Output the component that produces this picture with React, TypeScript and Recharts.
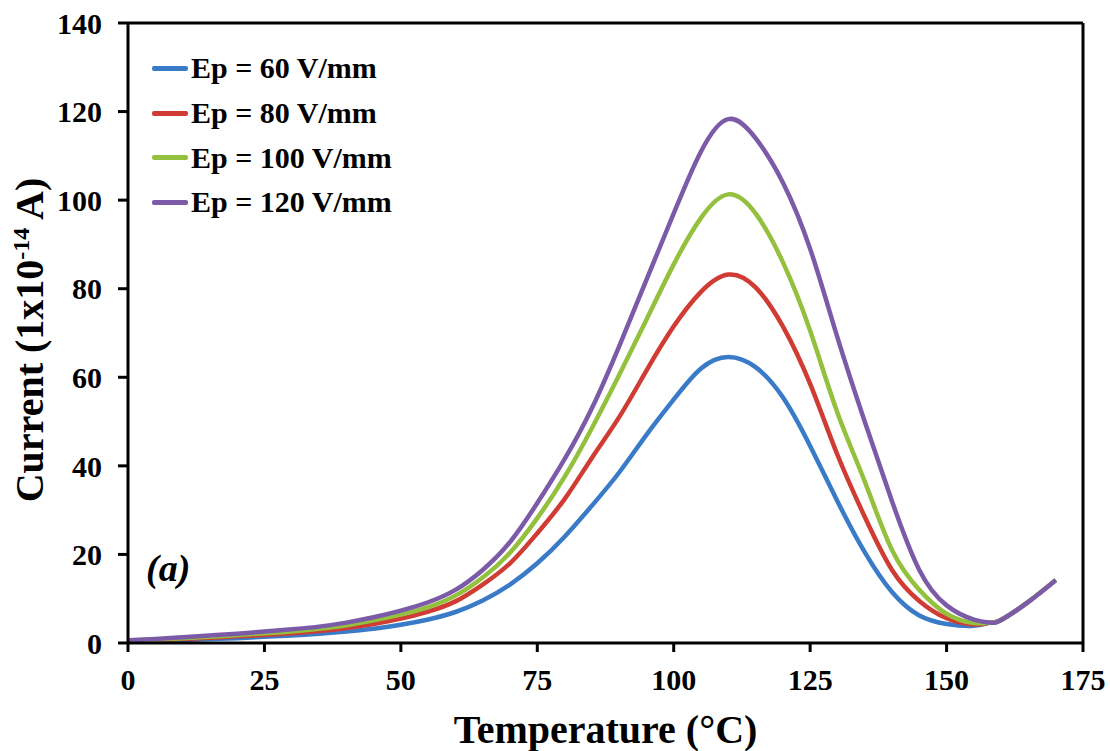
import React from 'react';
import { LineChart, Line, XAxis, YAxis, ReferenceLine, Label } from 'recharts';

const temperatures = [0, 5, 10, 15, 20, 25, 30, 35, 40, 45, 50, 55, 60, 65, 70, 75, 80, 85, 90, 95, 100, 105, 110, 115, 120, 125, 130, 135, 140, 145, 150, 155, 158, 160, 165, 170];

const ep60 = [0.3, 0.5, 0.7, 0.9, 1.1, 1.4, 1.7, 2.1, 2.6, 3.2, 4.1, 5.3, 7.0, 9.6, 13.2, 18, 24, 31, 38.5, 47, 55, 62, 64.6, 62.3, 55.5, 44.5, 32, 20.5, 11.5, 6.2, 4.3, 3.9, 4.6, 5.2, 9.3, 14.2];
const ep80 = [0.4, 0.6, 0.9, 1.2, 1.5, 1.8, 2.2, 2.7, 3.4, 4.3, 5.5, 7.1, 9.4, 13.2, 18, 24.8, 32.5, 41.8, 51, 61.5, 71.5, 79.3, 83.2, 80.3, 71.5, 58.5, 42.5, 28.5, 16.5, 9.5, 5.6, 4.2, 4.6, 5.2, 9.3, 14.2];
const ep100 = [0.5, 0.8, 1.1, 1.4, 1.8, 2.2, 2.6, 3.2, 4.0, 5.1, 6.4, 8.1, 10.7, 14.8, 20.4, 28.2, 37.5, 48.5, 60.5, 73, 85.5, 96, 101.3, 97, 86, 70.5, 52, 36.5, 21, 12, 6.6, 4.5, 4.6, 5.2, 9.3, 14.2];
const ep120 = [0.6, 0.9, 1.3, 1.7, 2.1, 2.6, 3.1, 3.7, 4.6, 5.8, 7.3, 9.2, 12.0, 16.5, 22.8, 31.6, 41.5, 53, 67, 82, 97, 111, 118.3, 114, 104, 89, 69, 50, 32, 16.5, 8.5, 5.3, 4.6, 5.2, 9.3, 14.2];

const xTicks = [0, 25, 50, 75, 100, 125, 150, 175];
const yTicks = [0, 20, 40, 60, 80, 100, 120, 140];

const seriesNames = ['Ep = 60 V/mm', 'Ep = 80 V/mm', 'Ep = 100 V/mm', 'Ep = 120 V/mm'];
const seriesKeys = ['ep60', 'ep80', 'ep100', 'ep120'];
const seriesColors = ['#3A7BC8', '#D03B33', '#93C13E', '#7B5BA8'];

const data = temperatures.map((t, i) => ({
  t,
  ep60: ep60[i],
  ep80: ep80[i],
  ep100: ep100[i],
  ep120: ep120[i],
}));

const FONT = '"Liberation Serif", "Times New Roman", serif';

const XTitle = (props: any) => {
  const vb = props.viewBox || { x: 128, y: 643, width: 955, height: 108 };
  return (
    <text
      x={vb.x + vb.width / 2}
      y={vb.y + 100}
      textAnchor="middle"
      fontFamily={FONT}
      fontWeight="bold"
      fontSize={40}
      fill="#000"
    >
      Temperature (°C)
    </text>
  );
};

const YTitle = (props: any) => {
  const vb = props.viewBox || { x: 0, y: 23, width: 128, height: 620 };
  const cx = 43;
  const cy = vb.y + vb.height / 2 + 7;
  return (
    <text
      x={cx}
      y={cy}
      transform={`rotate(-90, ${cx}, ${cy})`}
      textAnchor="middle"
      fontFamily={FONT}
      fontWeight="bold"
      fontSize={40}
      fill="#000"
    >
      Current (1x10
      <tspan dy={-14} fontSize={24}>-14</tspan>
      <tspan dy={14}> A)</tspan>
    </text>
  );
};

export default function App() {
  const tickStyle = { fontSize: 30, fontWeight: 700, fill: '#000', fontFamily: FONT };
  return (
    <div style={{ position: 'absolute', left: 0, top: 0, width: 1110, height: 751, background: '#fff' }}>
      <LineChart
        width={1110}
        height={751}
        data={data}
        margin={{ top: 23, right: 27, left: 0, bottom: 0 }}
      >
        <XAxis
          dataKey="t"
          type="number"
          domain={[0, 175]}
          ticks={xTicks}
          interval={0}
          height={108}
          axisLine={{ stroke: '#000', strokeWidth: 3 }}
          tickLine={{ stroke: '#000', strokeWidth: 3 }}
          tickSize={9}
          tickMargin={17}
          tick={tickStyle}
        >
          <Label content={<XTitle />} />
        </XAxis>
        <YAxis
          type="number"
          domain={[0, 140]}
          ticks={yTicks}
          interval={0}
          width={128}
          axisLine={{ stroke: '#000', strokeWidth: 3 }}
          tickLine={{ stroke: '#000', strokeWidth: 3 }}
          tickSize={10}
          tickMargin={16}
          tick={tickStyle}
        >
          <Label content={<YTitle />} />
        </YAxis>
        <ReferenceLine y={140} stroke="#000" strokeWidth={3} />
        <ReferenceLine x={175} stroke="#000" strokeWidth={3} />
        {seriesKeys.map((k, i) => (
          <Line
            key={k}
            dataKey={k}
            name={seriesNames[i]}
            type="natural"
            stroke={seriesColors[i]}
            strokeWidth={4.5}
            dot={false}
            isAnimationActive={false}
          />
        ))}
      </LineChart>
      <div style={{ position: 'absolute', left: 152, top: 46, fontFamily: FONT }}>
        {seriesNames.map((n, i) => (
          <div key={n} style={{ display: 'flex', alignItems: 'center', height: 44.7 }}>
            <div style={{ width: 36, height: 5, background: seriesColors[i], borderRadius: 2 }} />
            <span style={{ marginLeft: 3, fontSize: 30, fontWeight: 700, color: '#000', whiteSpace: 'nowrap' }}>{n}</span>
          </div>
        ))}
      </div>
      <div
        style={{
          position: 'absolute',
          left: 146,
          top: 549,
          fontFamily: FONT,
          fontSize: 38,
          fontWeight: 700,
          fontStyle: 'italic',
          lineHeight: '38px',
          color: '#000',
        }}
      >
        (a)
      </div>
    </div>
  );
}
